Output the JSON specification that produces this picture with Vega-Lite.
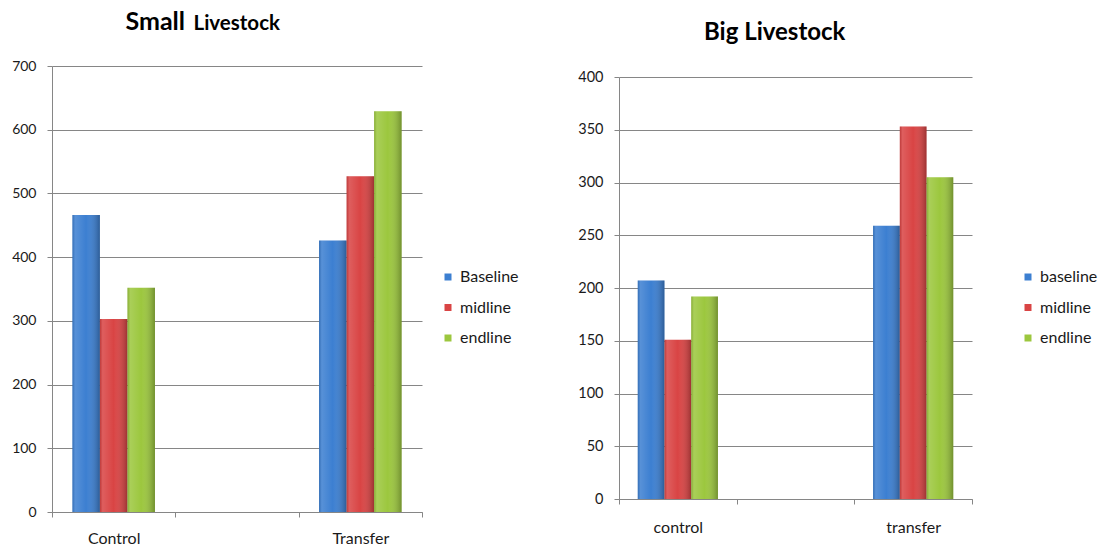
{
  "$schema": "https://vega.github.io/schema/vega-lite/v6.json",
  "background": "white",
  "padding": {"top": 9, "left": 0, "right": 0, "bottom": 0},
  "datasets": {
    "small": [
      {"group": "Control", "series": "Baseline", "value": 466},
      {"group": "Control", "series": "midline", "value": 303},
      {"group": "Control", "series": "endline", "value": 352},
      {"group": "Transfer", "series": "Baseline", "value": 426},
      {"group": "Transfer", "series": "midline", "value": 527},
      {"group": "Transfer", "series": "endline", "value": 629}
    ],
    "big": [
      {"group": "control", "series": "baseline", "value": 207},
      {"group": "control", "series": "midline", "value": 151},
      {"group": "control", "series": "endline", "value": 192},
      {"group": "transfer", "series": "baseline", "value": 259},
      {"group": "transfer", "series": "midline", "value": 353},
      {"group": "transfer", "series": "endline", "value": 305}
    ]
  },
  "spacing": 50,
  "hconcat": [
    {
      "width": 370,
      "height": 446,
      "data": {"name": "small"},
      "encoding": {
        "x": {
          "field": "group",
          "type": "nominal",
          "scale": {"domain": ["Control", " ", "Transfer"], "paddingInner": 0, "paddingOuter": 0},
          "axis": {
            "title": "Livestock",
            "titleAngle": 0,
            "titleX": 141,
            "titleY": -483,
            "titleAlign": "left",
            "titleBaseline": "alphabetic",
            "titleFont": "Lato",
            "titleFontSize": 20.5,
            "titleFontWeight": "bold",
            "titleColor": "#000000",
            "labelAngle": 0,
            "tickBand": "extent",
            "labelPadding": 13
          }
        },
        "xOffset": {
          "field": "series",
          "scale": {"domain": ["Baseline", "midline", "endline"], "paddingInner": 0, "paddingOuter": 0.74}
        },
        "y": {
          "field": "value",
          "type": "quantitative",
          "scale": {"domain": [0, 700], "nice": false},
          "axis": {
            "title": "Small",
            "titleAngle": 0,
            "titleX": 73,
            "titleY": -37,
            "titleAlign": "left",
            "titleBaseline": "alphabetic",
            "titleFont": "Lato",
            "titleFontSize": 25,
            "titleFontWeight": "bold",
            "titleColor": "#000000",
            "values": [0, 100, 200, 300, 400, 500, 600, 700],
            "minExtent": 52,
            "maxExtent": 52
          }
        }
      },
      "layer": [
        {
          "mark": {"type": "bar"},
          "encoding": {
            "color": {
              "field": "series",
              "type": "nominal",
              "scale": {"domain": ["Baseline", "midline", "endline"], "range": ["#3c7fd1", "#d94444", "#9cc73e"]},
              "legend": {"orient": "none", "legendX": 388, "legendY": 203, "title": null}
            }
          }
        },
        {
          "mark": {
            "type": "bar",
            "fill": {
              "gradient": "linear",
              "x1": 0, "y1": 0, "x2": 1, "y2": 0,
              "stops": [
                {"offset": 0, "color": "rgba(0,0,0,0.12)"},
                {"offset": 0.1, "color": "rgba(255,255,255,0.14)"},
                {"offset": 0.5, "color": "rgba(255,255,255,0.0)"},
                {"offset": 1, "color": "rgba(0,0,0,0.28)"}
              ]
            }
          }
        }
      ]
    },
    {
      "width": 353,
      "height": 433,
      "title": {
        "text": "Big Livestock",
        "anchor": "start",
        "frame": "group",
        "font": "Lato",
        "fontSize": 24,
        "fontWeight": "bold",
        "color": "#000000",
        "dx": 85,
        "offset": 21
      },
      "data": {"name": "big"},
      "encoding": {
        "x": {
          "field": "group",
          "type": "nominal",
          "scale": {"domain": ["control", " ", "transfer"], "paddingInner": 0, "paddingOuter": 0},
          "axis": {"title": null, "labelAngle": 0, "tickBand": "extent", "labelPadding": 15}
        },
        "xOffset": {
          "field": "series",
          "scale": {"domain": ["baseline", "midline", "endline"], "paddingInner": 0, "paddingOuter": 0.7}
        },
        "y": {
          "field": "value",
          "type": "quantitative",
          "scale": {"domain": [0, 400], "nice": false, "range": [433, 11]},
          "axis": {"title": null, "values": [0, 50, 100, 150, 200, 250, 300, 350, 400], "minExtent": 50, "maxExtent": 50, "labelFontSize": 14.5}
        }
      },
      "layer": [
        {
          "mark": {"type": "bar"},
          "encoding": {
            "color": {
              "field": "series",
              "type": "nominal",
              "scale": {"domain": ["baseline", "midline", "endline"], "range": ["#3c7fd1", "#d94444", "#9cc73e"]},
              "legend": {"orient": "none", "legendX": 401, "legendY": 203, "title": null}
            }
          }
        },
        {
          "mark": {
            "type": "bar",
            "fill": {
              "gradient": "linear",
              "x1": 0, "y1": 0, "x2": 1, "y2": 0,
              "stops": [
                {"offset": 0, "color": "rgba(0,0,0,0.12)"},
                {"offset": 0.1, "color": "rgba(255,255,255,0.14)"},
                {"offset": 0.5, "color": "rgba(255,255,255,0.0)"},
                {"offset": 1, "color": "rgba(0,0,0,0.28)"}
              ]
            }
          }
        }
      ],
      "resolve": {"scale": {"color": "independent"}}
    }
  ],
  "resolve": {"scale": {"color": "independent", "x": "independent", "y": "independent", "xOffset": "independent"}},
  "config": {
    "font": "Lato",
    "view": {"stroke": null},
    "axis": {
      "labelFont": "Lato",
      "labelFontSize": 14,
      "labelColor": "#1a1a1a",
      "domainColor": "#868686",
      "tickColor": "#868686",
      "gridColor": "#868686",
      "tickSize": 5,
      "domainWidth": 1,
      "tickWidth": 1
    },
    "axisY": {"grid": true, "labelPadding": 11, "gridOpacity": 1},
    "axisX": {"grid": false, "labelFontSize": 16},
    "legend": {
      "labelFont": "Lato",
      "labelFontSize": 16,
      "labelColor": "#1a1a1a",
      "symbolType": "square",
      "symbolSize": 49,
      "symbolStrokeWidth": 0,
      "rowPadding": 14.5,
      "labelOffset": 4,
      "padding": 0
    }
  }
}
